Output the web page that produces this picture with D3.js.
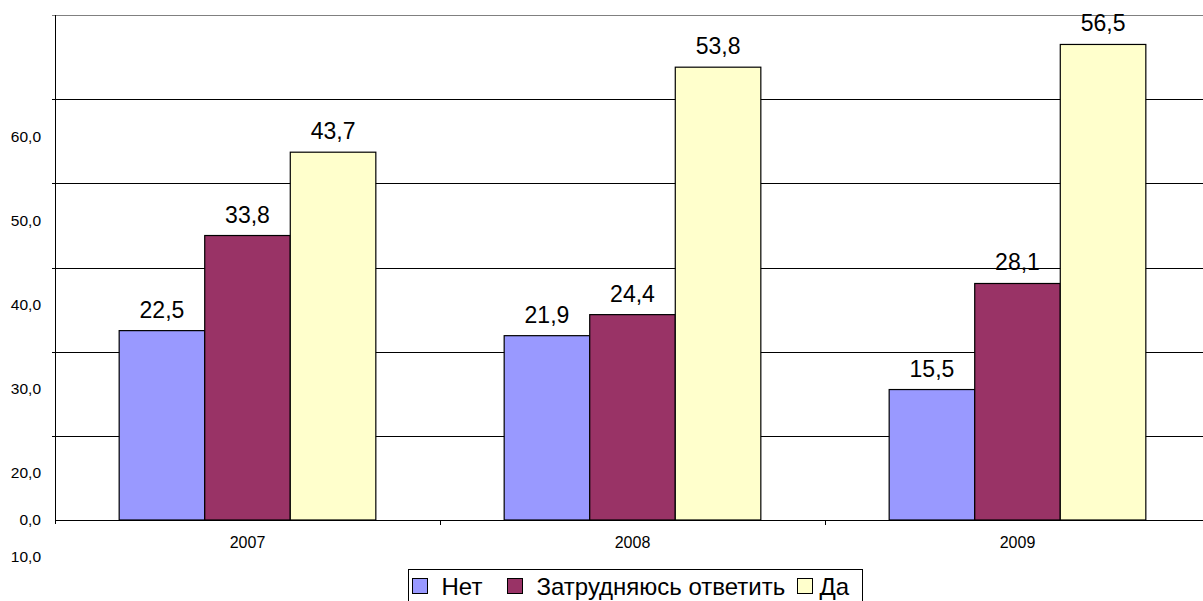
<!DOCTYPE html>
<html>
<head>
<meta charset="utf-8">
<script src="https://cdn.jsdelivr.net/npm/d3@7/dist/d3.min.js"></script>
<style>
  body { margin: 0; background: #fff; }
  svg { display: block; font-family: "Liberation Sans", Arial, sans-serif; }
</style>
</head>
<body>
<div id="svg-area"></div>
<script>
// chart data
var years = ["2007", "2008", "2009"];
var seriesNames = ["Нет", "Затрудняюсь ответить", "Да"];
var seriesColors = ["#9999ff", "#993366", "#ffffcc"];
var valuesNet = [22.5, 21.9, 15.5];
var valuesHard = [33.8, 24.4, 28.1];
var valuesDa = [43.7, 53.8, 56.5];
var gridValues = [0, 10, 20, 30, 40, 50, 60];
// the axis labels in the picture sit off their gridlines
var tickLabels = ["0,0", "10,0", "20,0", "30,0", "40,0", "50,0", "60,0"];
var tickLabelAt = [0, -4.4, 5.6, 15.6, 25.6, 35.6, 45.6];

var svgWidth = 1203, svgHeight = 601;
var margin = { top: 15, right: -7, bottom: 81, left: 55 };
var width = svgWidth - margin.left - margin.right;
var height = svgHeight - margin.top - margin.bottom;

var svg = d3.select("#svg-area").append("svg")
    .attr("width", svgWidth)
    .attr("height", svgHeight);

var chartGroup = svg.append("g")
    .attr("transform", `translate(${margin.left}, ${margin.top})`);

var xScale = d3.scaleBand().domain(years).range([0, width]).paddingInner(0).paddingOuter(0);
var inner = d3.scaleBand().domain(d3.range(3)).range([xScale.bandwidth() / 6, xScale.bandwidth() * 5 / 6]);
var yScale = d3.scaleLinear().domain([0, 60]).range([height, 0]);

// gridlines
chartGroup.selectAll(".grid")
    .data(gridValues.slice(1))
    .enter().append("line")
    .attr("x1", -3).attr("x2", width)
    .attr("y1", d => Math.round(yScale(d)) + 0.5)
    .attr("y2", d => Math.round(yScale(d)) + 0.5)
    .attr("stroke", d => d === 60 ? "#808080" : "#000")
    .attr("stroke-width", 1);

// y axis line
chartGroup.append("line")
    .attr("x1", 0.5).attr("x2", 0.5)
    .attr("y1", 0).attr("y2", height + 4)
    .attr("stroke", "#000");

// y labels
chartGroup.selectAll(".ylab")
    .data(tickLabels)
    .enter().append("text")
    .attr("x", -14)
    .attr("y", (d, i) => yScale(tickLabelAt[i]))
    .attr("dy", "0.35em")
    .attr("text-anchor", "end")
    .attr("font-size", 15.5)
    .attr("fill", "#000")
    .text(d => d);

// bars
var series = [valuesNet, valuesHard, valuesDa];
series.forEach(function(vals, s) {
    var g = chartGroup.append("g");
    g.selectAll("rect")
        .data(vals)
        .enter().append("rect")
        .attr("x", (d, i) => xScale(years[i]) + inner(s))
        .attr("y", d => yScale(d))
        .attr("width", inner.bandwidth())
        .attr("height", d => height - yScale(d))
        .attr("fill", seriesColors[s])
        .attr("stroke", "#000")
        .attr("stroke-width", 1.2);
    g.selectAll("text")
        .data(vals)
        .enter().append("text")
        .attr("x", (d, i) => xScale(years[i]) + inner(s) + inner.bandwidth() / 2)
        .attr("y", d => yScale(d) - 13)
        .attr("text-anchor", "middle")
        .attr("font-size", 23)
        .attr("fill", "#000")
        .text(d => d.toFixed(1).replace(".", ","));
});

// x axis
chartGroup.append("line")
    .attr("x1", 0).attr("x2", width)
    .attr("y1", height + 0.5).attr("y2", height + 0.5)
    .attr("stroke", "#000");
chartGroup.selectAll(".xtick")
    .data(years.slice(1))
    .enter().append("line")
    .attr("x1", d => Math.round(xScale(d)) + 0.5)
    .attr("x2", d => Math.round(xScale(d)) + 0.5)
    .attr("y1", height).attr("y2", height + 5)
    .attr("stroke", "#000");
chartGroup.selectAll(".xlab")
    .data(years)
    .enter().append("text")
    .attr("x", d => xScale(d) + xScale.bandwidth() / 2)
    .attr("y", height + 22)
    .attr("dy", "0.35em")
    .attr("text-anchor", "middle")
    .attr("font-size", 16)
    .text(d => d);

// legend
var legend = svg.append("g").attr("transform", "translate(408.5, 569.5)");
legend.append("rect")
    .attr("width", 454).attr("height", 40)
    .attr("fill", "#fff").attr("stroke", "#000");
var legendX = [4, 99, 389];
seriesNames.forEach(function(name, i) {
    legend.append("rect")
        .attr("x", legendX[i]).attr("y", 9)
        .attr("width", 15).attr("height", 15)
        .attr("fill", seriesColors[i]).attr("stroke", "#000");
    legend.append("text")
        .attr("x", legendX[i] + (i === 2 ? 22 : 29)).attr("y", 17)
        .attr("dy", "0.35em")
        .attr("font-size", 24)
        .text(name);
});
</script>
</body>
</html>
